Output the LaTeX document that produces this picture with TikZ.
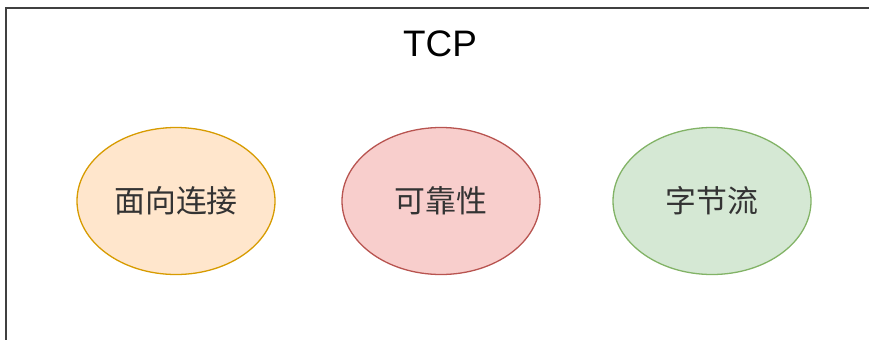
\documentclass[tikz,border=0pt]{standalone}
\usepackage{fontspec}
\setmainfont{Liberation Sans}
\newfontfamily\cjk{Noto Sans CJK SC}
\usetikzlibrary{shapes.geometric}
\definecolor{orfill}{HTML}{FFE6CC}\definecolor{ordraw}{HTML}{D79B00}
\definecolor{rdfill}{HTML}{F8CECC}\definecolor{rddraw}{HTML}{B85450}
\definecolor{grfill}{HTML}{D5E8D4}\definecolor{grdraw}{HTML}{82B366}
\definecolor{txt}{HTML}{333333}
\tikzset{
  oval/.style={ellipse, line width=1.3bp, minimum width=198bp, minimum height=147bp, inner sep=0pt,
    font=\cjk\fontsize{31}{36}\selectfont, text=txt},
  frame/.style={line width=1.6bp, draw=black!75},
}
\begin{document}
\begin{tikzpicture}[x=1bp,y=-1bp]
\useasboundingbox (0,0) rectangle (869,339);
\clip (0,0) rectangle (869,339);
\coordinate (fa) at (875,8);
\coordinate (fb) at (6,8);
\coordinate (fc) at (6,345);
\draw[frame] (fa) -- (fb) -- (fc);
\node[font=\fontsize{37}{42}\selectfont, text=black] (tcp) at (440,44) {TCP};
\node[oval, fill=orfill, draw=ordraw] (a) at (176,201) {面向连接};
\node[oval, fill=rdfill, draw=rddraw] (b) at (441,201) {可靠性};
\node[oval, fill=grfill, draw=grdraw] (c) at (712,201) {字节流};
\end{tikzpicture}
\end{document}
